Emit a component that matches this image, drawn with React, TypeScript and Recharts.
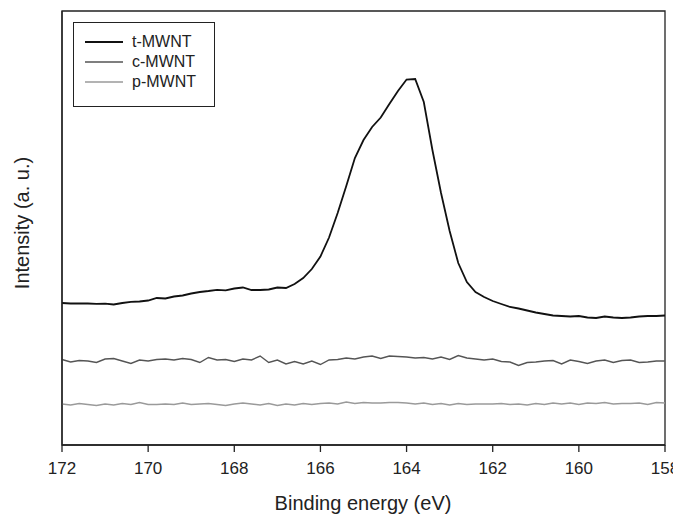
import React from 'react';
import { LineChart, Line, XAxis, YAxis, ReferenceArea } from 'recharts';

const energies = [
  172, 171.8, 171.6, 171.4, 171.2, 171, 170.8, 170.6, 170.4, 170.2,
  170, 169.8, 169.6, 169.4, 169.2, 169, 168.8, 168.6, 168.4, 168.2,
  168, 167.8, 167.6, 167.4, 167.2, 167, 166.8, 166.6, 166.4, 166.2,
  166, 165.8, 165.6, 165.4, 165.2, 165, 164.8, 164.6, 164.4, 164.2,
  164, 163.8, 163.6, 163.4, 163.2, 163, 162.8, 162.6, 162.4, 162.2,
  162, 161.8, 161.6, 161.4, 161.2, 161, 160.8, 160.6, 160.4, 160.2,
  160, 159.8, 159.6, 159.4, 159.2, 159, 158.8, 158.6, 158.4, 158.2,
  158,
];

const tMWNT = [
  142, 141.5, 141.5, 141.5, 141.2, 141.4, 140.5, 142, 143.2, 143.5,
  144.5, 147, 146.5, 148.5, 149.5, 151.5, 153, 154, 155.2, 154.7,
  156.5, 157.5, 155, 155, 155.5, 157.5, 157, 161, 167, 176,
  188.5, 207.5, 232, 259, 287, 305, 318, 327.5, 341, 354,
  365.5, 366, 343, 295, 252, 214, 182, 163, 153, 148,
  144, 141, 138, 136.5, 134.5, 132.5, 131, 129.5, 129, 128.5,
  129, 127.5, 127, 128.5, 127.5, 127, 127.5, 128.5, 129, 129,
  129.5,
];

const cMWNT = [
  85.5, 83, 84.5, 84, 82.5, 86, 86.5, 84, 81.5, 85,
  84, 85.5, 86, 85, 86.5, 85.5, 82.5, 87.5, 85, 85.5,
  83.5, 86, 85, 89, 82.5, 85, 81, 83.5, 81, 84,
  80.5, 85, 85.5, 87, 86, 88, 89, 86.5, 89, 88.5,
  88, 87, 87.5, 86, 88, 85.5, 89.5, 87, 86, 85,
  86, 83.5, 83, 79.5, 82.5, 83, 84, 84.5, 81, 85,
  83.5, 81.5, 84, 85, 82.5, 84.5, 85, 82.5, 83, 84,
  84,
];

const pMWNT = [
  41, 40, 41.5, 40.5, 39.5, 41, 40, 41.5, 40.5, 42.5,
  40.5, 40.5, 41, 40.5, 42, 40.5, 41, 41.5, 40.5, 39.5,
  41, 42, 41, 40, 41.5, 39.5, 41, 40, 41.5, 40.5,
  41.5, 42, 41, 43, 41.5, 42.5, 42, 42, 42.5, 42.5,
  42, 41, 42, 40.5, 41.5, 40, 41.5, 40.5, 41, 41,
  41, 41.5, 40.5, 41, 40, 41.5, 40.5, 42, 41, 42,
  40.5, 42, 41.5, 42.5, 41, 41.5, 41.5, 42, 40.5, 42.5,
  42,
];

const xTicks = [172, 170, 168, 166, 164, 162, 160, 158];

const seriesNames = ['t-MWNT', 'c-MWNT', 'p-MWNT'];
const seriesColors = ['#111111', '#555555', '#9a9a9a'];

const data = energies.map((e, i) => ({
  e,
  t: tMWNT[i],
  c: cMWNT[i],
  p: pMWNT[i],
}));

const FONT = 'Liberation Sans, Arial, sans-serif';

const LegendBox = () => (
  <div
    style={{
      position: 'absolute',
      left: 65,
      top: 14,
      border: '1.3px solid #222',
      width: 142,
      height: 85,
      boxSizing: 'border-box',
      padding: '9px 0 0 11px',
      fontFamily: FONT,
      fontSize: 16,
      lineHeight: '20px',
      color: '#222',
      background: '#fff',
    }}
  >
    {seriesNames.map((n, i) => (
      <div key={n} style={{ display: 'flex', alignItems: 'center', height: 20 }}>
        <svg width={38} height={4} style={{ marginRight: 9 }}>
          <line x1={0} y1={2} x2={38} y2={2} stroke={seriesColors[i]} strokeWidth={i === 0 ? 1.8 : 1.4} />
        </svg>
        <span>{n}</span>
      </div>
    ))}
  </div>
);

const YLabel = () => (
  <text
    x={14}
    y={215}
    transform="rotate(-90 14 215)"
    textAnchor="middle"
    dominantBaseline="central"
    fontFamily={FONT}
    fontSize={20}
    fill="#222"
  >
    Intensity (a. u.)
  </text>
);

const XLabel = () => (
  <text
    x={355}
    y={502}
    textAnchor="middle"
    fontFamily={FONT}
    fontSize={20}
    fill="#222"
  >
    Binding energy (eV)
  </text>
);

export default function App() {
  return (
    <div style={{ width: 673, height: 508, background: '#fff', position: 'relative' }}>
      <LineChart
        width={673}
        height={508}
        data={data}
        margin={{ top: 3, right: 16, bottom: 0, left: 0 }}
      >
        <XAxis
          dataKey="e"
          type="number"
          domain={[158, 172]}
          reversed
          ticks={xTicks}
          interval={0}
          tickSize={7}
          tickLine={{ stroke: '#222', strokeWidth: 1.3 }}
          axisLine={{ stroke: '#222', strokeWidth: 1.3 }}
          tick={{ fontFamily: FONT, fontSize: 17, fill: '#222' }}
          tickMargin={10}
          height={71}
          label={<XLabel />}
        />
        <YAxis
          type="number"
          domain={[0, 434]}
          tick={false}
          tickLine={false}
          axisLine={{ stroke: '#222', strokeWidth: 1.3 }}
          width={54}
          label={<YLabel />}
        />
        <ReferenceArea
          x1={172}
          x2={158}
          y1={0}
          y2={434}
          fill="none"
          stroke="#222"
          strokeWidth={1.3}
        />
        <Line
          dataKey="t"
          name={seriesNames[0]}
          stroke={seriesColors[0]}
          strokeWidth={1.8}
          dot={false}
          isAnimationActive={false}
          type="linear"
        />
        <Line
          dataKey="c"
          name={seriesNames[1]}
          stroke={seriesColors[1]}
          strokeWidth={1.4}
          dot={false}
          isAnimationActive={false}
          type="linear"
        />
        <Line
          dataKey="p"
          name={seriesNames[2]}
          stroke={seriesColors[2]}
          strokeWidth={1.4}
          dot={false}
          isAnimationActive={false}
          type="linear"
        />
      </LineChart>
      <LegendBox />
    </div>
  );
}
